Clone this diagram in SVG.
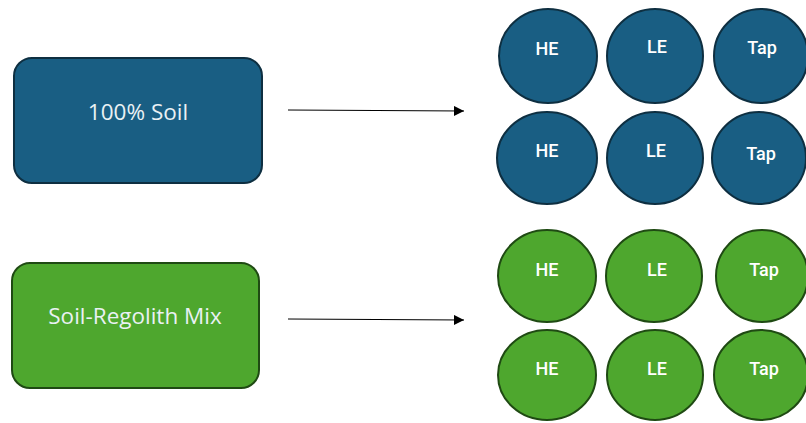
<svg xmlns="http://www.w3.org/2000/svg" width="806" height="423" viewBox="0 0 806 423">
<defs>
<marker id="ah" viewBox="0 0 10 10" refX="10" refY="5" markerWidth="10" markerHeight="10" markerUnits="userSpaceOnUse" orient="auto">
<path d="M0,0 L10,5 L0,10 z" fill="#000"/>
</marker>
<style>
.blue{fill:#195e83;stroke:#0e2f41;stroke-width:2}
.green{fill:#4ea72e;stroke:#1f4a13;stroke-width:2}
.box{font-family:"Open Sans","Liberation Sans",sans-serif;font-size:22.5px;font-weight:500;fill:#e9f1f4;text-anchor:middle;dominant-baseline:central}
.lbl{font-family:Roboto,"Liberation Sans",Arial,sans-serif;font-size:18px;font-weight:500;fill:#ffffff;text-anchor:middle;dominant-baseline:central}
.conn{stroke:#000;stroke-width:1.2;fill:none;marker-end:url(#ah)}
</style>
</defs>
<rect width="806" height="423" fill="#ffffff"/>
<g id="soil"><rect class="blue" x="14" y="58" width="248" height="125" rx="18"/><text class="box" x="138" y="111">100% Soil</text></g>
<g id="mix"><rect class="green" x="12" y="263" width="247" height="125" rx="18"/><text class="box" x="135" y="315">Soil-Regolith Mix</text></g>
<g id="connectors">
<line class="conn" x1="288" y1="110" x2="464" y2="111"/>
<line class="conn" x1="288" y1="319" x2="464" y2="320"/>
</g>
<g id="b-he1"><ellipse class="blue" cx="548" cy="56" rx="49" ry="47"/><text class="lbl" x="547" y="48">HE</text></g>
<g id="b-le1"><ellipse class="blue" cx="655" cy="56" rx="48" ry="47"/><text class="lbl" x="657" y="46">LE</text></g>
<g id="b-tap1"><ellipse class="blue" cx="761" cy="56" rx="47" ry="47"/><text class="lbl" x="762" y="47">Tap</text></g>
<g id="b-he2"><ellipse class="blue" cx="547" cy="158" rx="50" ry="46"/><text class="lbl" x="547" y="150">HE</text></g>
<g id="b-le2"><ellipse class="blue" cx="655" cy="158" rx="48" ry="46"/><text class="lbl" x="656" y="150">LE</text></g>
<g id="b-tap2"><ellipse class="blue" cx="759" cy="158" rx="47" ry="46"/><text class="lbl" x="761" y="153">Tap</text></g>
<g id="g-he1"><ellipse class="green" cx="547" cy="276" rx="49" ry="46"/><text class="lbl" x="547" y="269">HE</text></g>
<g id="g-le1"><ellipse class="green" cx="654" cy="276" rx="48" ry="46"/><text class="lbl" x="657" y="269">LE</text></g>
<g id="g-tap1"><ellipse class="green" cx="762" cy="276" rx="46" ry="46"/><text class="lbl" x="764" y="269">Tap</text></g>
<g id="g-he2"><ellipse class="green" cx="547" cy="375" rx="49" ry="45"/><text class="lbl" x="547" y="368">HE</text></g>
<g id="g-le2"><ellipse class="green" cx="655" cy="375" rx="48" ry="45"/><text class="lbl" x="657" y="368">LE</text></g>
<g id="g-tap2"><ellipse class="green" cx="761" cy="375" rx="47" ry="45"/><text class="lbl" x="764" y="368">Tap</text></g>
</svg>
